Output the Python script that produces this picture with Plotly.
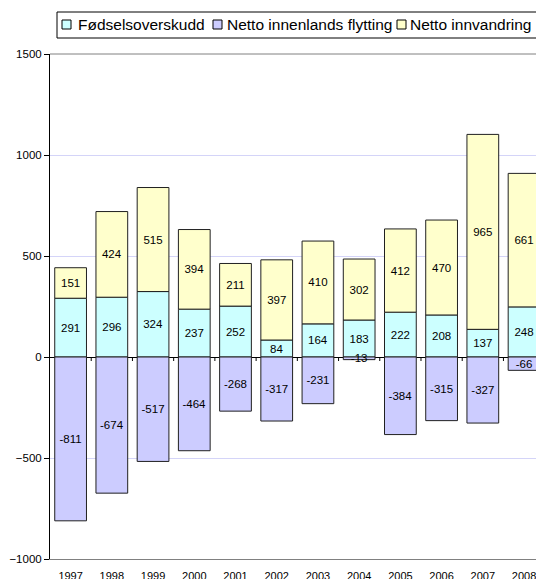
import plotly.graph_objects as go

years = ["1997", "1998", "1999", "2000", "2001", "2002", "2003", "2004", "2005", "2006", "2007", "2008"]
fodselsoverskudd = [291, 296, 324, 237, 252, 84, 164, 183, 222, 208, 137, 248]
innenlands_flytting = [-811, -674, -517, -464, -268, -317, -231, -13, -384, -315, -327, -66]
innvandring = [151, 424, 515, 394, 211, 397, 410, 302, 412, 470, 965, 661]

series_names = ["Fødselsoverskudd", "Netto innenlands flytting", "Netto innvandring"]
series_colors = ["#CCFFFF", "#CCCCFF", "#FFFFCC"]
y_ticks = [-1000, -500, 0, 500, 1000, 1500]

FONT = "Liberation Sans, Arial, sans-serif"

fig = go.Figure()
for name, vals, col in zip(series_names, [fodselsoverskudd, innenlands_flytting, innvandring], series_colors):
    fig.add_trace(go.Bar(
        x=years, y=vals, name=name,
        marker=dict(color=col, line=dict(color="#202020", width=1)),
        text=[str(v) for v in vals], textposition="inside", insidetextanchor="middle",
        textangle=0, textfont=dict(family=FONT, size=11.5, color="#000000"),
        showlegend=False, width=0.77,
    ))

# plot area geometry (pixels) for manual legend placement
L, R, T, B = 50, 536, 54, 559
def px(x):
    return (x - L) / (R - L)
def py(y):
    return (B - y) / (B - T)

shapes = [
    dict(type="rect", xref="paper", yref="paper", x0=px(57), x1=px(570), y0=py(38), y1=py(12),
         line=dict(color="#000000", width=1), fillcolor="#FFFFFF", layer="above"),
    dict(type="line", xref="paper", yref="paper", x0=0, x1=1, y0=1, y1=1,
         line=dict(color="#808080", width=1)),
]
# small tick marks on the zero (category) axis at category boundaries
for i in range(1, len(years)):
    shapes.append(dict(type="line", xref="x", yref="y", ysizemode="pixel", yanchor=0,
                       x0=i - 0.5, x1=i - 0.5, y0=0, y1=-4,
                       line=dict(color="#000000", width=1)))

annotations = []
glyph_x = [62, 213, 397]
text_x = [76, 225, 408]
for gx, tx, name, col in zip(glyph_x, text_x, series_names, series_colors):
    shapes.append(dict(type="rect", xref="paper", yref="paper", x0=px(gx), x1=px(gx + 9),
                       y0=py(29), y1=py(20), line=dict(color="#000000", width=1),
                       fillcolor=col, layer="above"))
    annotations.append(dict(xref="paper", yref="paper", x=px(tx), y=py(25), xanchor="left",
                            yanchor="middle", text=name, showarrow=False,
                            font=dict(family=FONT, size=15.5, color="#000000")))

fig.update_layout(
    barmode="relative",
    width=536, height=579,
    margin=dict(l=L, r=536 - R, t=T, b=579 - B, pad=0),
    paper_bgcolor="white", plot_bgcolor="white",
    font=dict(family=FONT, size=11.5, color="#000000"),
    uniformtext=dict(minsize=11.5, mode="show"),
    shapes=shapes, annotations=annotations,
    xaxis=dict(type="category", range=[-0.5, 11.29], showgrid=False,
               showline=True, linecolor="#808080", linewidth=1,
               ticks="", tickfont=dict(family=FONT, size=11, color="#000000"),
               ticklabelstandoff=7, automargin=False),
    yaxis=dict(range=[-1000, 1500], tickvals=y_ticks, showgrid=True, gridcolor="#D4D4F8",
               gridwidth=1, zeroline=True, zerolinecolor="#000000", zerolinewidth=1,
               showline=True, linecolor="#000000", linewidth=1, ticks="outside",
               ticklen=5, tickcolor="#000000", automargin=False,
               tickfont=dict(family=FONT, size=11.5, color="#000000")),
)

fig.write_html("out.html", config={"displayModeBar": False},
               post_script="document.body.style.margin='0px';document.body.style.overflow='hidden';")
